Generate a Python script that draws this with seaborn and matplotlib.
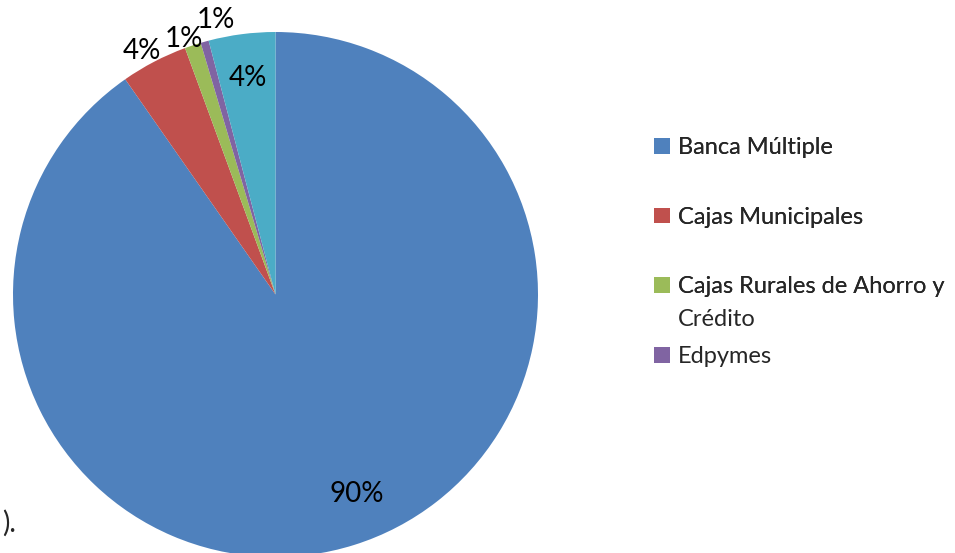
import numpy as np
import seaborn as sns
import matplotlib.pyplot as plt
from matplotlib.patches import Patch

# shares of the system (%)
categories = ["Banca Múltiple", "Cajas Municipales", "Cajas Rurales de Ahorro y Crédito",
              "Edpymes", "Empresas Financieras"]
shares = [90.3, 4.1, 1.0, 0.5, 4.1]
colors = ["#4F81BD", "#C0504D", "#9BBB59", "#8064A2", "#4BACC6"]

# where each percent label sits: radius factor and angle nudge (deg)
label_r = [0.82, 1.06, 1.035, 1.07, 0.83]
label_dt = [4.8, 1.2, 1.4, -3.3, 0.0]

sns.set_theme(style="white")
plt.rcParams["font.family"] = ["Lato", "DejaVu Sans"]

fig = plt.figure(figsize=(9.55, 5.53), dpi=100)
ax = fig.add_axes([13 / 955, -4 / 553, 525 / 955, 525 / 553])

wedges, _ = ax.pie(shares, colors=colors, startangle=90, counterclock=False,
                   radius=1.0, wedgeprops=dict(linewidth=0))
ax.set_xlim(-1, 1)
ax.set_ylim(-1, 1)
ax.set_aspect("equal")
ax.axis("off")

for w, v, r, dt in zip(wedges, shares, label_r, label_dt):
    th = np.deg2rad((w.theta1 + w.theta2) / 2 + dt)
    ax.text(r * np.cos(th), r * np.sin(th), f"{int(v + 0.5)}%",
            ha="center", va="center", fontsize=20, color="black")

# legend only shows the first four categories, like the original
# long label wraps after "y", the square stays on the first line (Excel style)
first_line, second_line = categories[2].rsplit(" ", 1)
leg_labels = [categories[0], categories[1], first_line]
handles = [Patch(facecolor=c, edgecolor="none") for c in colors[:4]]
leg_kw = dict(loc="upper left", frameon=False, fontsize=17, handlelength=0.65,
              handleheight=0.65, handletextpad=0.35, borderaxespad=0)
leg1 = fig.legend(handles[:3], leg_labels,
                  bbox_to_anchor=(645 / 955, 1 - 128 / 553),
                  labelspacing=2.05, **leg_kw)
leg2 = fig.legend(handles[3:], categories[3:4],
                  bbox_to_anchor=(645 / 955, 1 - 337 / 553), **leg_kw)
fig.add_artist(leg1)

fig.canvas.draw()
bb = leg1.get_texts()[2].get_window_extent()
fig.text(bb.x0 / fig.bbox.width, 1 - 319 / 553, second_line, fontsize=17,
         ha="left", va="center")

# leftover text from the surrounding document
fig.text(2 / 955, 1 - 532 / 553, ").", fontsize=20, ha="left", va="baseline")

fig.savefig("out.png", dpi=100)
